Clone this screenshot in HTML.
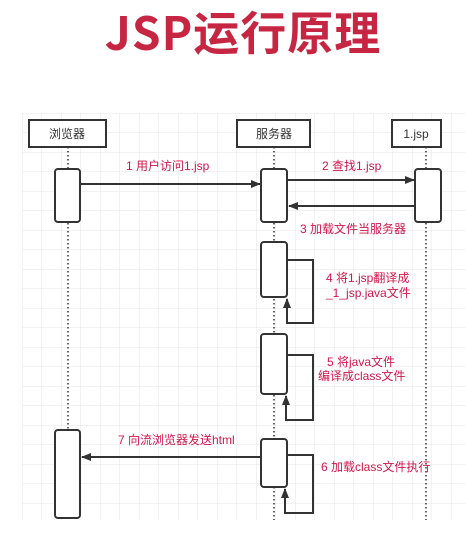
<!DOCTYPE html>
<html><head><meta charset="utf-8"><style>
html,body{margin:0;padding:0;background:#fff;width:466px;height:537px;overflow:hidden}
.t{position:absolute;left:10px;width:466px;top:5px;text-align:center;font:bold 46px "Noto Sans CJK SC",sans-serif;color:#c62641;line-height:52px;letter-spacing:1px}
svg{position:absolute;left:0;top:0}
</style></head><body>
<svg width="466" height="537" xmlns="http://www.w3.org/2000/svg">
<defs>
<pattern id="g" width="19.5" height="19.5" patternUnits="userSpaceOnUse" x="22" y="113">
<path d="M0 0H19.5M0 0V19.5" stroke="#e6e6e6" stroke-width="1" fill="none"/>
</pattern>
<marker id="a" markerWidth="10" markerHeight="8" refX="9" refY="4" orient="auto" markerUnits="userSpaceOnUse"><path d="M0 0L10 4L0 8z" fill="#333"/></marker>
</defs>
<rect x="22" y="113" width="444" height="407" fill="url(#g)"/>
<g stroke="#333" stroke-width="1.5" stroke-dasharray="1.5,2.5">
<line x1="68" y1="147" x2="68" y2="430"/>
<line x1="274" y1="147" x2="274" y2="520"/>
<line x1="426" y1="147" x2="426" y2="520"/>
</g>
<g fill="#fff" stroke="#333" stroke-width="2">
<rect x="29" y="120" width="77" height="27"/>
<rect x="237" y="120" width="73" height="27"/>
<rect x="392" y="120" width="49" height="27"/>
<rect x="55" y="169" width="25" height="53" rx="3"/>
<rect x="261" y="169" width="26" height="53" rx="3"/>
<rect x="415" y="169" width="26" height="53" rx="3"/>
<rect x="261" y="242" width="26" height="55" rx="3"/>
<rect x="261" y="334" width="26" height="60" rx="3"/>
<rect x="261" y="439" width="26" height="48" rx="3"/>
<rect x="55" y="430" width="25" height="88" rx="3"/>
</g>
<g stroke="#333" stroke-width="2" fill="none">
<line x1="80" y1="184" x2="260" y2="184" marker-end="url(#a)"/>
<line x1="287" y1="180" x2="414" y2="180" marker-end="url(#a)"/>
<line x1="415" y1="206" x2="289" y2="206" marker-end="url(#a)"/>
<polyline points="288,260 313,260 313,323 287,323 287,299" marker-end="url(#a)"/>
<polyline points="288,355 313,355 313,420 286,420 286,396" marker-end="url(#a)"/>
<polyline points="288,455 313,455 313,513 285,513 285,489" marker-end="url(#a)"/>
<line x1="261" y1="457" x2="82" y2="457" marker-end="url(#a)"/>
</g>
<g font-family="Liberation Sans,Noto Sans CJK SC,sans-serif" font-size="12" fill="#333" text-anchor="middle">
<text x="67" y="138">浏览器</text>
<text x="274" y="138">服务器</text>
<text x="416" y="138">1.jsp</text>
</g>
<g font-family="Liberation Sans,Noto Sans CJK SC,sans-serif" font-size="12" fill="#d0174a">
<text x="126" y="170">1 用户访问1.jsp</text>
<text x="322" y="170">2 查找1.jsp</text>
<text x="300" y="233">3 加载文件当服务器</text>
<text x="326" y="282">4 将1.jsp翻译成</text>
<text x="326" y="297">_1_jsp.java文件</text>
<text x="327" y="366">5 将java文件</text>
<text x="318" y="380">编译成class文件</text>
<text x="321" y="471">6 加载class文件执行</text>
<text x="118" y="444">7 向流浏览器发送html</text>
</g>
</svg>
<div class="t">JSP运行原理</div>
</body></html>
